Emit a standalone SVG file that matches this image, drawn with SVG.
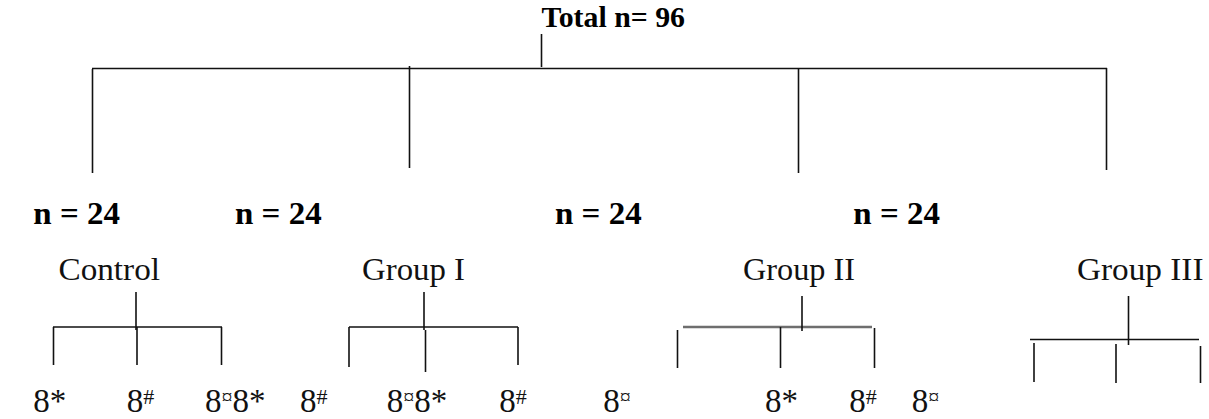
<svg xmlns="http://www.w3.org/2000/svg" width="1209" height="419" viewBox="0 0 1209 419">
<style>
.b{font-family:"Liberation Serif","Times New Roman",serif;font-weight:bold;fill:#000}
.r{font-family:"Liberation Serif","Times New Roman",serif;fill:#111}
.s{font-size:22px}
.ln{stroke:#111;stroke-width:1.6;fill:none}
.gr{stroke:#6e6e6e;stroke-width:2.6;fill:none}
</style>
<rect width="1209" height="419" fill="#fff"/>
<g id="connectors">
<line class="ln" x1="541.5" y1="34" x2="541.5" y2="67"/>
<line class="ln" x1="92" y1="68.5" x2="1107" y2="68.5" stroke-width="2.2"/>
<line class="ln" x1="92.5" y1="69" x2="92.5" y2="173"/>
<line class="ln" x1="409.5" y1="66" x2="409.5" y2="168"/>
<line class="ln" x1="798.5" y1="69" x2="798.5" y2="173"/>
<line class="ln" x1="1106.5" y1="68" x2="1106.5" y2="170"/>
<line class="ln" x1="136" y1="292" x2="136" y2="330" stroke-width="2"/>
<line class="ln" x1="53" y1="327" x2="222" y2="327"/>
<line class="ln" x1="53.5" y1="327" x2="53.5" y2="365"/>
<line class="ln" x1="137" y1="327" x2="137" y2="365"/>
<line class="ln" x1="221.5" y1="327" x2="221.5" y2="365"/>
<line class="ln" x1="424" y1="292" x2="424" y2="330"/>
<line class="ln" x1="349" y1="327" x2="518" y2="327"/>
<line class="ln" x1="349" y1="327" x2="349" y2="367"/>
<line class="ln" x1="425.5" y1="330" x2="425.5" y2="372"/>
<line class="ln" x1="518" y1="327" x2="518" y2="365"/>
<line class="gr" x1="683" y1="327" x2="872" y2="327"/>
<line class="ln" x1="802" y1="296" x2="802" y2="331"/>
<line class="ln" x1="677.5" y1="330" x2="677.5" y2="368"/>
<line class="ln" x1="780.5" y1="327" x2="780.5" y2="368"/>
<line class="ln" x1="874.5" y1="328" x2="874.5" y2="368"/>
<line class="ln" x1="1128.5" y1="296" x2="1128.5" y2="345"/>
<line class="ln" x1="1030" y1="339.5" x2="1199" y2="339.5"/>
<line class="ln" x1="1034" y1="343" x2="1034" y2="382"/>
<line class="ln" x1="1116" y1="344" x2="1116" y2="383"/>
<line class="ln" x1="1200.5" y1="346" x2="1200.5" y2="383"/>
</g>
<g id="total"><text class="b" x="541.5" y="26.7" font-size="29.5" textLength="143.5" lengthAdjust="spacingAndGlyphs">Total n= 96</text></g>
<g id="n-control"><text class="b" x="33.3" y="223.5" font-size="30.5" textLength="86.7" lengthAdjust="spacingAndGlyphs">n = 24</text></g>
<g id="n-group1"><text class="b" x="235" y="223.5" font-size="30.5" textLength="86.7" lengthAdjust="spacingAndGlyphs">n = 24</text></g>
<g id="n-group2"><text class="b" x="555" y="223.5" font-size="30.5" textLength="86.7" lengthAdjust="spacingAndGlyphs">n = 24</text></g>
<g id="n-group3"><text class="b" x="853.3" y="223.5" font-size="30.5" textLength="86.7" lengthAdjust="spacingAndGlyphs">n = 24</text></g>
<g id="control"><text class="r" x="58.5" y="280" font-size="31" textLength="101.5" lengthAdjust="spacingAndGlyphs">Control</text></g>
<g id="group1"><text class="r" x="362" y="280" font-size="31" textLength="103" lengthAdjust="spacingAndGlyphs">Group I</text></g>
<g id="group2"><text class="r" x="743" y="280" font-size="31" textLength="112" lengthAdjust="spacingAndGlyphs">Group II</text></g>
<g id="group3"><text class="r" x="1077" y="280" font-size="31" textLength="126.5" lengthAdjust="spacingAndGlyphs">Group III</text></g>
<g id="leaves" class="r" font-size="33">
<text class="r" x="33.3" y="411.5">8*</text>
<text class="r" x="126.7" y="411.5">8<tspan class="s" dy="-8">#</tspan></text>
<text class="r" x="205" y="411.5">8<tspan class="s" dy="-8">¤</tspan><tspan dy="8">8*</tspan></text>
<text class="r" x="300" y="411.5">8<tspan class="s" dy="-8">#</tspan></text>
<text class="r" x="386.7" y="411.5">8<tspan class="s" dy="-8">¤</tspan><tspan dy="8">8*</tspan></text>
<text class="r" x="499.3" y="411.5">8<tspan class="s" dy="-8">#</tspan></text>
<text class="r" x="603.3" y="411.5">8<tspan class="s" dy="-8">¤</tspan></text>
<text class="r" x="765" y="411.5">8*</text>
<text class="r" x="849.3" y="411.5">8<tspan class="s" dy="-8">#</tspan></text>
<text class="r" x="911.7" y="411.5">8<tspan class="s" dy="-8">¤</tspan></text>
</g>
</svg>
